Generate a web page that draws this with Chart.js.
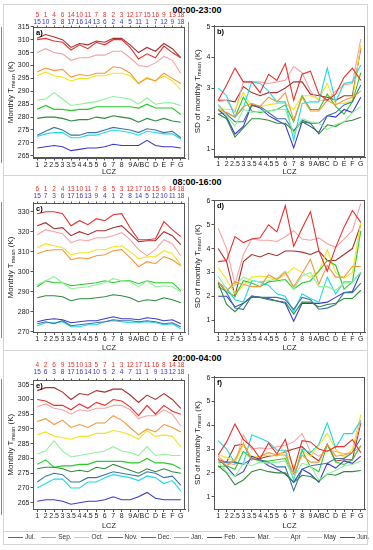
<!DOCTYPE html>
<html>
<head>
<meta charset="utf-8">
<script src="https://cdn.jsdelivr.net/npm/chart.js@4"></script>
<style>
  body { margin: 0; width: 373px; height: 550px; position: relative; background: #fff;
         font-family: "Liberation Sans", Arial, sans-serif; overflow: hidden; }
  canvas { position: absolute; }
  .sec { position: absolute; left: 3px; width: 365px; border: 1px solid #d4d4d4; box-sizing: border-box; }
  .ttl { position: absolute; left: 147px; width: 100px; text-align: center; font-weight: bold; font-size: 9px; color: #000; }
  .bar { position: absolute; width: 1px; background: #8a8a8a; }
  .lg { position: absolute; top: 532px; height: 10px; font-size: 6.5px; color: #333; line-height: 10px; white-space: nowrap; }
  .lg i { display: inline-block; width: 15px; height: 1.3px; vertical-align: middle; margin-right: 2px; }
</style>
</head>
<body>

<div class="sec" style="top:4px;height:172px"></div>
<div class="sec" style="top:175px;height:176px"></div>
<div class="sec" style="top:350px;height:182px"></div>
<div class="sec" style="top:531px;height:14px"></div>

<div class="ttl" style="top:5px">00:00-23:00</div>
<div class="ttl" style="top:177px">08:00-16:00</div>
<div class="ttl" style="top:353px">20:00-04:00</div>

<div class="bar" style="left:1px;top:27px;height:136px"></div>
<div class="bar" style="left:188px;top:22px;height:138px"></div>
<div class="bar" style="left:1px;top:202px;height:136px"></div>
<div class="bar" style="left:188px;top:197px;height:138px"></div>
<div class="bar" style="left:1px;top:379px;height:136px"></div>
<div class="bar" style="left:188px;top:374px;height:138px"></div>

<canvas id="a" width="188" height="176" style="left:0;top:0"></canvas>
<canvas id="b" width="185" height="176" style="left:188px;top:0"></canvas>
<canvas id="c" width="188" height="177" style="left:0;top:175px"></canvas>
<canvas id="d" width="185" height="177" style="left:188px;top:175px"></canvas>
<canvas id="e" width="188" height="180" style="left:0;top:350px"></canvas>
<canvas id="f" width="185" height="180" style="left:188px;top:350px"></canvas>

<div id="legend"></div>

<script>
// ===== 1. Categorias e rótulos =====
const lcz = ['1', '2', '2.5', '3', '3.5', '4', '4.5', '5', '6', '7', '8', '9', 'A/B', 'C', 'D', 'E', 'F', 'G'];
const meses = ['Jul.', 'Sep.', 'Oct.', 'Nov.', 'Dec.', 'Jan.', 'Feb.', 'Mar.', 'Apr', 'May', 'Jun.'];
const cores = ['#e8302c', '#f5963c', '#8ff09a', '#2e8b3c', '#3d74a6', '#1fd9e6',
               '#3a3ad0', '#27cc27', '#f2e422', '#f5a3a3', '#a8302e'];

// rankings (vermelho / azul) no topo dos painéis da esquerda
const rankRedA  = [5, 1, 4, 6, 14, 10, 11, 7, 8, 2, 3, 12, 17, 15, 16, 9, 13, 18];
const rankBlueA = [15, 10, 3, 8, 17, 16, 14, 13, 6, 2, 4, 5, 11, 1, 7, 12, 9, 18];
const rankRedC  = [6, 1, 2, 4, 13, 10, 11, 7, 8, 5, 3, 12, 17, 16, 15, 9, 14, 18];
const rankBlueC = [15, 7, 3, 6, 17, 16, 13, 9, 4, 1, 2, 8, 14, 5, 12, 10, 11, 18];
const rankRedE  = [4, 2, 6, 9, 15, 10, 13, 5, 7, 1, 3, 12, 17, 11, 16, 8, 14, 18];
const rankBlueE = [15, 6, 3, 8, 17, 16, 14, 10, 5, 2, 4, 7, 11, 1, 9, 13, 12, 18];

// ===== 2. Séries (uma linha por mês, na ordem de "meses") =====

// a) Tmean mensal 00:00-23:00 (K)
const tMeanDia = [
  [310, 310.5, 309.5, 309, 306, 308, 306.5, 309, 308, 310, 310, 307, 302.5, 304.5, 303, 307.5, 305, 303],          // Jul
  [297.5, 299, 298, 298.5, 295.5, 296.5, 296, 297, 297, 299.5, 299, 297, 293, 295, 294, 297, 295, 293],            // Sep
  [286.5, 287, 289.5, 287, 284.5, 285, 285.5, 286, 287, 288, 287.5, 287, 285, 287.5, 285, 285.5, 285.5, 284.5],    // Oct
  [279.5, 280, 280, 279.5, 278.5, 279, 279, 280, 279.5, 280.5, 280, 279.5, 278, 279.5, 278.5, 279.5, 278.5, 278],  // Nov
  [273, 274.5, 276, 275, 273, 273, 274, 274, 275, 276, 275.5, 275, 274, 275.5, 275, 274, 274.5, 272],              // Dec
  [272.5, 273.5, 274, 274, 272, 272, 273, 273, 274, 275, 274.5, 274, 273, 274.5, 274, 273.5, 273.5, 271.5],        // Jan
  [268, 268.5, 269, 268.5, 267, 267.5, 268, 268, 268.5, 269.5, 269, 269, 269, 271, 269, 268.5, 268.5, 268],        // Feb
  [283, 284.5, 283, 283, 282.5, 283, 283, 284, 284, 284, 284, 284, 283.5, 285, 283.5, 283.5, 283.5, 281],          // Mar
  [296, 297.5, 296, 295.5, 294, 295, 295, 296, 296, 297, 297, 296, 293, 295.5, 294, 296, 294, 290.5],              // Apr
  [305, 306.5, 305, 304.5, 302, 303, 303, 304, 304, 305.5, 305.5, 303, 300, 299.5, 301, 303.5, 302, 297],          // May
  [310.5, 312, 311, 310, 307, 308.5, 308, 309.5, 309, 310.5, 310.5, 308, 305, 307, 305.5, 308.5, 306.5, 303]       // Jun
];

// b) DP da Tmean mensal 00:00-23:00 (K)
const sdDia = [
  [2.6, 3.1, 3.65, 3.2, 3.2, 2.85, 3.45, 3.25, 3.8, 2.6, 3.45, 3.55, 2.8, 2.6, 2.8, 3.35, 3.65, 3.25],
  [2.3, 2.2, 2.05, 2.4, 2.5, 2.4, 2.7, 2.55, 2.85, 1.95, 2.7, 2.25, 2.25, 2.6, 2.45, 2.6, 2.7, 2.9],
  [2.45, 2.1, 1.75, 2.3, 2.2, 2.25, 2.25, 2.3, 2.3, 1.5, 2.0, 1.9, 1.85, 1.65, 1.8, 1.9, 2.2, 2.4],
  [2.15, 2.0, 1.4, 1.7, 2.0, 2.0, 1.95, 1.85, 1.85, 1.6, 1.9, 1.85, 1.5, 1.8, 1.75, 1.9, 1.95, 2.05],
  [2.45, 2.15, 1.9, 1.9, 2.45, 2.4, 2.2, 2.0, 2.0, 1.6, 1.95, 1.85, 1.85, 2.1, 2.2, 2.45, 2.55, 3.1],
  [3.0, 2.75, 2.05, 2.35, 3.2, 3.15, 2.9, 2.55, 2.55, 1.3, 2.5, 2.55, 2.55, 3.65, 2.55, 3.15, 3.2, 3.75],
  [2.3, 2.05, 1.5, 1.75, 2.45, 2.35, 2.1, 1.95, 1.8, 1.05, 1.9, 1.75, 1.55, 2.1, 2.05, 2.3, 2.2, 2.7],
  [2.15, 2.2, 2.05, 2.7, 2.25, 2.2, 2.25, 2.3, 2.45, 1.9, 2.75, 2.3, 2.3, 2.8, 2.4, 2.15, 2.55, 3.5],
  [2.35, 2.3, 2.3, 2.85, 2.4, 2.4, 2.45, 2.5, 2.5, 2.3, 2.75, 2.75, 2.65, 3.15, 2.5, 2.5, 2.6, 4.4],
  [2.55, 2.6, 2.2, 3.2, 3.2, 3.2, 3.15, 3.2, 3.25, 3.7, 3.5, 2.9, 2.6, 2.6, 2.9, 3.1, 3.15, 4.6],
  [2.6, 2.6, 2.55, 3.05, 2.85, 2.75, 2.85, 2.85, 3.0, 3.2, 3.2, 2.8, 2.75, 2.7, 2.6, 2.75, 2.75, 4.3]
];

// c) Tmean mensal 08:00-16:00 (K)
const tMeanTarde = [
  [329, 330, 330, 329, 323, 325.5, 323.5, 326.5, 325.5, 328.5, 329, 322, 316, 316, 316.5, 325, 321, 317.5],
  [309, 310.5, 311, 311, 306, 307, 306.5, 308, 308.5, 310.5, 311, 307, 302.5, 305, 304, 307.5, 306, 303],
  [293.5, 295.5, 297.5, 294.5, 291.5, 292, 292.5, 293.5, 294.5, 296.5, 295.5, 295, 292.5, 295.5, 292.5, 293, 292.5, 290],
  [287, 288, 288, 287.5, 285.5, 286.5, 286.5, 287, 287.5, 288.5, 288, 287, 285, 286, 285.5, 287, 286, 284.5],
  [274, 275, 274, 275.5, 273, 273.5, 274, 274.5, 275, 276, 275.5, 275.5, 275, 275.5, 275, 274, 274.5, 272.5],
  [273, 274.5, 274.5, 275, 272.5, 272.5, 273.5, 273.5, 275, 275.5, 275, 274.5, 274.5, 275, 274.5, 273.5, 274, 271.5],
  [275, 276, 276.5, 276, 274.5, 275, 275.5, 275.5, 276.5, 277.5, 276.5, 276.5, 276, 277, 276.5, 275.5, 276, 274],
  [292.5, 295.5, 294.5, 294.5, 293, 293.5, 294, 294.5, 295.5, 294.5, 295.5, 295.5, 294, 295.5, 294.5, 294.5, 294.5, 290.5],
  [312, 314, 313, 312, 308.5, 309.5, 309.5, 311, 311, 312.5, 313, 310, 306.5, 307.5, 307.5, 310.5, 309, 303.5],
  [318.5, 321, 320, 319, 314.5, 316, 315.5, 317, 317, 318, 319.5, 316, 311, 308, 311, 316, 314, 308],
  [323, 324.5, 321.5, 322, 318, 320, 318.5, 320.5, 320.5, 322, 323, 319, 315, 315.5, 315.5, 320, 318, 313.5]
];

// d) DP da Tmean mensal 08:00-16:00 (K)
const sdTarde = [
  [3.45, 3.5, 4.5, 4.25, 4.4, 4.45, 5.0, 4.7, 5.8, 4.1, 4.85, 5.55, 3.9, 3.05, 4.05, 4.9, 5.6, 5.1],
  [2.6, 2.2, 2.6, 2.5, 2.4, 2.4, 2.9, 2.7, 3.0, 2.4, 2.95, 3.55, 2.5, 3.3, 2.8, 2.8, 3.25, 3.25],
  [2.85, 2.3, 2.45, 2.8, 2.65, 2.6, 2.65, 2.75, 3.05, 2.3, 2.85, 3.0, 2.4, 2.4, 2.25, 2.55, 2.6, 3.0],
  [2.55, 1.65, 1.35, 1.7, 1.95, 1.95, 1.85, 1.8, 1.75, 1.25, 1.75, 1.75, 1.55, 1.65, 1.7, 1.9, 1.9, 2.25],
  [2.6, 2.15, 1.5, 1.45, 2.0, 1.95, 1.95, 1.95, 1.85, 1.45, 1.95, 1.85, 1.45, 1.5, 1.65, 2.15, 2.15, 2.55],
  [2.55, 2.35, 1.85, 1.75, 2.65, 2.6, 2.45, 2.1, 2.0, 1.35, 2.1, 1.9, 1.75, 2.8, 2.1, 2.6, 2.6, 3.0],
  [2.0, 2.0, 1.55, 1.7, 2.0, 1.95, 1.9, 1.8, 1.7, 0.95, 1.7, 1.7, 1.7, 1.75, 1.95, 2.15, 2.2, 3.0],
  [2.4, 2.2, 2.0, 2.65, 2.55, 2.4, 2.6, 2.65, 2.7, 2.3, 2.55, 2.65, 3.05, 3.5, 3.3, 2.3, 2.6, 4.75],
  [3.2, 2.7, 2.1, 2.45, 2.8, 2.85, 2.8, 2.7, 2.9, 3.2, 3.0, 2.8, 3.05, 3.95, 3.0, 2.75, 3.0, 5.1],
  [4.85, 4.0, 2.5, 3.75, 4.4, 4.35, 4.35, 4.3, 4.5, 4.75, 4.4, 4.35, 4.45, 4.2, 4.05, 4.4, 4.75, 5.9],
  [4.0, 3.45, 2.0, 3.45, 3.75, 3.65, 3.8, 3.7, 3.9, 3.9, 3.85, 3.75, 3.9, 3.5, 3.5, 3.75, 4.0, 5.0]
];

// e) Tmean mensal 20:00-04:00 (K)
const tMeanNoite = [
  [300, 299.5, 298, 298, 296.5, 298.5, 297, 299, 298, 300, 299.5, 297.5, 294.5, 298, 295, 298, 296, 295],
  [292.5, 293.5, 291.5, 293, 290.5, 291.5, 290.5, 292, 292, 294.5, 293, 290.5, 288, 290, 289, 291.5, 290.5, 289],
  [281.5, 282.5, 286, 282.5, 280.5, 281, 281.5, 282, 282.5, 284, 282.5, 282, 281, 284, 281, 281.5, 281, 281],
  [276.5, 277, 277, 276.5, 275.5, 276, 275.5, 277, 276.5, 278, 277, 276, 275, 276.5, 275.5, 276.5, 275.5, 275],
  [272, 274, 275, 274.5, 272, 272, 273.5, 273.5, 274.5, 275.5, 275, 274.5, 274, 275.5, 275, 273.5, 274, 271],
  [270, 271.5, 273, 273, 270, 270, 272, 272, 273.5, 274.5, 274, 273.5, 272.5, 274, 273.5, 271.5, 272.5, 269],
  [265.5, 266, 266, 265.5, 264.5, 265, 265.5, 265.5, 266, 267, 266, 266, 267, 268.5, 266.5, 266, 266, 266],
  [278, 279.5, 277, 277.5, 277.5, 278, 278, 279, 279, 279, 279, 278.5, 278.5, 280, 278.5, 278.5, 278, 276.5],
  [288, 289, 287.5, 287, 286.5, 287.5, 287.5, 288.5, 288.5, 289.5, 289, 288, 286.5, 289.5, 287.5, 288, 287.5, 284],
  [297.5, 298.5, 297, 296.5, 295, 296.5, 296, 297, 297, 298, 298, 296.5, 293.5, 294.5, 294.5, 296.5, 295, 291],
  [303, 304, 304, 302.5, 300, 302, 301.5, 303, 302.5, 303.5, 303.5, 301.5, 299, 301.5, 300, 302, 300, 297]
];

// f) DP da Tmean mensal 20:00-04:00 (K)
const sdNoite = [
  [2.75, 3.3, 4.05, 3.4, 3.1, 2.6, 3.25, 2.8, 3.4, 2.1, 3.35, 3.3, 3.0, 2.9, 3.1, 3.1, 3.4, 2.85],
  [2.6, 2.3, 2.55, 3.25, 2.55, 2.7, 2.85, 2.75, 2.75, 1.95, 2.75, 2.45, 2.45, 3.2, 2.7, 2.75, 2.85, 3.1],
  [2.45, 2.05, 1.85, 2.4, 2.3, 2.45, 2.4, 2.45, 2.5, 1.8, 2.4, 2.3, 1.7, 1.95, 2.1, 2.3, 2.35, 2.5],
  [2.3, 2.0, 1.5, 1.7, 2.05, 2.15, 2.05, 2.0, 2.0, 1.6, 1.9, 1.85, 1.65, 1.95, 1.9, 2.05, 2.05, 2.1],
  [2.45, 2.45, 2.45, 2.35, 2.6, 2.55, 2.45, 2.25, 2.25, 1.25, 2.15, 2.3, 2.35, 2.4, 2.6, 2.6, 2.85, 3.45],
  [3.35, 3.0, 2.4, 2.4, 3.6, 3.45, 3.3, 2.95, 2.95, 1.7, 3.0, 2.85, 3.2, 4.1, 3.05, 3.65, 3.65, 4.2],
  [2.6, 2.25, 1.85, 2.05, 2.7, 2.55, 2.3, 2.15, 1.95, 1.6, 2.15, 1.95, 1.6, 2.4, 2.2, 2.5, 2.4, 2.7],
  [2.25, 2.3, 2.15, 2.9, 2.6, 2.5, 2.5, 2.55, 2.6, 1.75, 2.95, 2.25, 2.05, 3.2, 2.45, 2.35, 2.55, 3.15],
  [2.75, 2.65, 2.45, 3.2, 2.65, 2.7, 2.75, 2.7, 2.95, 2.25, 2.95, 2.7, 3.15, 3.65, 3.0, 2.65, 3.0, 4.45],
  [2.7, 2.4, 2.35, 3.6, 3.0, 3.05, 3.0, 3.1, 3.15, 3.3, 3.65, 2.9, 2.7, 2.95, 2.9, 2.8, 2.85, 4.2],
  [2.55, 2.45, 3.15, 3.2, 2.55, 2.6, 2.7, 2.75, 2.9, 3.0, 3.1, 2.75, 2.5, 3.2, 2.5, 2.55, 2.55, 4.1]
];


// ===== 3. Plugins (moldura, rankings, letra do painel, título do eixo y com subscrito) =====
const FONTE = '"Liberation Sans", Arial, sans-serif';

const moldura = {
  id: 'moldura',
  afterDraw(chart, args, opts) {
    const { ctx, chartArea: a } = chart;
    const escalaX = chart.scales.x;
    ctx.save();
    ctx.strokeStyle = '#555';
    ctx.lineWidth = 1;
    const l = Math.round(a.left) + 0.5, t = Math.round(a.top) + 0.5;
    const r = Math.round(a.right) - 0.5, b = Math.round(a.bottom) - 0.5;
    ctx.strokeRect(l, t, r - l, b - t);

    // rankings: posição x vem da própria escala de categorias
    if (opts.ranks) {
      ctx.beginPath();
      lcz.forEach((_, i) => {
        const x = Math.round(escalaX.getPixelForValue(i)) + 0.5;
        ctx.moveTo(x, t);
        ctx.lineTo(x, t - 2);
      });
      ctx.stroke();

      ctx.font = '6.5px ' + FONTE;
      ctx.textAlign = 'center';
      ctx.textBaseline = 'middle';
      opts.ranks.forEach(linha => {
        ctx.fillStyle = linha.cor;
        linha.valores.forEach((v, i) => {
          ctx.fillText(String(v), escalaX.getPixelForValue(i), linha.y);
        });
      });
    }

    ctx.fillStyle = '#000';
    ctx.font = 'bold 7.5px ' + FONTE;
    ctx.textAlign = 'left';
    ctx.textBaseline = 'middle';
    ctx.fillText(opts.letra, a.left + 3, a.top + 6);
    ctx.restore();
  }
};

const tituloY = {
  id: 'tituloY',
  afterDraw(chart, args, opts) {
    const { ctx, chartArea: a } = chart;
    const f1 = '8px ' + FONTE, f2 = '5.5px ' + FONTE;
    ctx.save();
    ctx.translate(opts.x, (a.top + a.bottom) / 2);
    ctx.rotate(-Math.PI / 2);
    ctx.fillStyle = '#222';
    ctx.textBaseline = 'middle';
    ctx.font = f1;
    const w1 = ctx.measureText(opts.pre).width;
    const w3 = ctx.measureText(opts.pos).width;
    ctx.font = f2;
    const w2 = ctx.measureText(opts.sub).width;
    let x = -(w1 + w2 + w3) / 2;
    ctx.font = f1; ctx.fillText(opts.pre, x, 0); x += w1;
    ctx.font = f2; ctx.fillText(opts.sub, x, 2); x += w2;
    ctx.font = f1; ctx.fillText(opts.pos, x, 0);
    ctx.restore();
  }
};


// ===== 4. Configuração base =====
function datasets(linhas) {
  return linhas.map((serie, i) => ({
    label: meses[i],
    data: serie,
    borderColor: cores[i],
    borderWidth: 1.1,
    pointRadius: 0,
    tension: 0,
    fill: false
  }));
}

function eixoX(hx) {
  return {
    offset: true,
    ticks: { autoSkip: false, maxRotation: 0, minRotation: 0, color: '#222', padding: 0,
             font: { size: 7, family: FONTE } },
    grid: { offset: false, drawOnChartArea: false, tickLength: 2.5, color: '#555' },
    border: { color: '#555' },
    title: { display: true, text: 'LCZ', color: '#222', padding: 0, font: { size: 7.5, family: FONTE } },
    afterFit(s) { s.height = hx; }
  };
}

function eixoY(min, max, passo, largura) {
  return {
    min: min,
    max: max,
    ticks: { stepSize: passo, includeBounds: false, color: '#222', padding: 1,
             font: { size: 7, family: FONTE } },
    grid: { drawOnChartArea: false, tickLength: 2.5, color: '#555' },
    border: { color: '#555' },
    afterFit(s) { s.width = largura; }
  };
}

// painel da esquerda (Tmean, com rankings no topo)
function painelMedia(id, linhas, letra, y, ranksRed, ranksBlue, g) {
  new Chart(document.getElementById(id), {
    type: 'line',
    data: { labels: lcz, datasets: datasets(linhas) },
    plugins: [moldura, tituloY],
    options: {
      responsive: false,
      animation: false,
      layout: { padding: { top: g.padTop, left: 0, right: 3, bottom: 0 } },
      plugins: {
        legend: { display: false },
        tooltip: { enabled: false },
        moldura: {
          letra: letra,
          ranks: [
            { valores: ranksRed,  cor: '#e8302c', y: g.redY },
            { valores: ranksBlue, cor: '#3535cc', y: g.blueY }
          ]
        },
        tituloY: { x: 11, pre: 'Monthly T', sub: 'mean', pos: ' (K)' }
      },
      scales: {
        x: eixoX(g.hx),
        y: eixoY(y[0], y[1], y[2], 33)
      }
    }
  });
}

// painel da direita (desvio padrão)
function painelDP(id, linhas, letra, y, g) {
  new Chart(document.getElementById(id), {
    type: 'line',
    data: { labels: lcz, datasets: datasets(linhas) },
    plugins: [moldura, tituloY],
    options: {
      responsive: false,
      animation: false,
      layout: { padding: { top: g.padTop, left: 0, right: 8, bottom: 0 } },
      plugins: {
        legend: { display: false },
        tooltip: { enabled: false },
        moldura: { letra: letra },
        tituloY: { x: 9.5, pre: 'SD of monthly T', sub: 'mean', pos: ' (K)' }
      },
      scales: {
        x: eixoX(g.hx),
        y: eixoY(y[0], y[1], y[2], 26)
      }
    }
  });
}


// ===== 5. Gráficos =====
painelMedia('a', tMeanDia,   'a)', [264.15, 315.1, 5], rankRedA, rankBlueA, { padTop: 26.5, redY: 15,   blueY: 22, hx: 18 });
painelDP   ('b', sdDia,      'b)', [0.75, 5.04, 1],    { padTop: 25.5, hx: 19 });
painelMedia('c', tMeanTarde, 'c)', [269.6, 334.6, 10], rankRedC, rankBlueC, { padTop: 27.5, redY: 14.5, blueY: 21, hx: 19.5 });
painelDP   ('d', sdTarde,    'd)', [0.475, 6.04, 1],   { padTop: 25, hx: 19.5 });
painelMedia('e', tMeanNoite, 'e)', [262.7, 306.6, 5],  rankRedE, rankBlueE, { padTop: 30, redY: 15.5, blueY: 22, hx: 20.5 });
painelDP   ('f', sdNoite,    'f)', [0.46, 6.04, 1],    { padTop: 26.7, hx: 20.5 });


// ===== 6. Legenda =====
const legenda = document.getElementById('legend');
meses.forEach((m, i) => {
  const item = document.createElement('div');
  item.className = 'lg';
  item.style.left = (8 + 33.2 * i) + 'px';
  item.innerHTML = '<i style="background:' + cores[i] + '"></i>' + m;
  legenda.appendChild(item);
});
</script>
</body>
</html>
